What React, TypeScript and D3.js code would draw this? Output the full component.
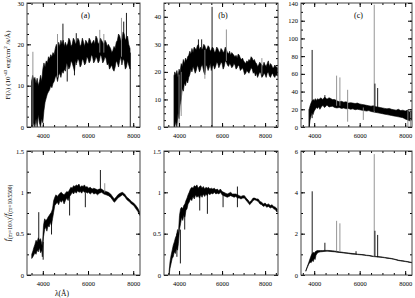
import React, { useRef, useLayoutEffect } from 'react';
import * as d3 from 'd3';

// [lambda (Å), lower edge, upper edge] of the plotted spectrum
type Pt = [number, number, number];
// [lambda, from, to, grey? 1 : 0]
type Spike = [number, number, number, number];

const lambdaTicks = [4000, 6000, 8000];
const fluxTicksA = [0, 10, 20, 30];
const fluxTicksB = [0, 10, 20, 30, 40];
const fluxTicksC = [0, 20, 40, 60, 80, 100, 120, 140];
const ratioTicksAB = [0, 0.5, 1, 1.5];
const ratioTicksC = [0, 2, 4, 6];

const specA: Pt[] = [
    [3500, 0, 11], [3550, 0, 12.5], [3600, 1, 11.5], [3650, 0, 12], [3700, 2, 10.5],
    [3750, 0, 11.8], [3800, 3, 10], [3850, 1, 11], [3900, 0, 12.5], [3950, 2, 11],
    [4000, 1, 14], [4050, 4, 15.5], [4100, 6, 14.5], [4150, 7, 16], [4200, 8, 15.5],
    [4250, 8.5, 17], [4300, 9, 16.5], [4350, 10, 17.5], [4400, 9.5, 17], [4450, 10.5, 18],
    [4500, 11, 17.5], [4550, 12, 19], [4600, 12.5, 20], [4650, 11, 19], [4700, 12.5, 20.5],
    [4750, 13, 19.5], [4800, 12, 21], [4850, 13.5, 20], [4900, 13, 21], [4950, 14, 19.5],
    [5000, 13.5, 20.5], [5050, 15.5, 19.5], [5100, 15, 20], [5150, 14, 21.5], [5200, 14.5, 21],
    [5250, 16, 19.5], [5300, 15.5, 20], [5350, 14.5, 21.5], [5400, 13.5, 21], [5450, 16, 20],
    [5500, 15.5, 20.5], [5550, 16.5, 21.5], [5600, 16, 21], [5650, 14.5, 19.5], [5700, 15, 20],
    [5750, 16.5, 21.5], [5800, 16, 20.5], [5850, 15, 19.5], [5900, 15.5, 21], [5950, 17, 20.5],
    [6000, 16.5, 20], [6050, 15.5, 21.5], [6100, 16, 21], [6150, 17.5, 20], [6200, 17, 20.5],
    [6250, 15.5, 21], [6300, 16, 20], [6350, 17, 22], [6400, 16.5, 21.5], [6450, 15.5, 20],
    [6500, 16, 20.5], [6550, 17.5, 21.5], [6600, 17, 21], [6650, 15.5, 20.5], [6700, 16, 20],
    [6750, 17, 21], [6800, 16.5, 20.5], [6850, 15, 19.5], [6900, 15.5, 20], [6950, 14, 19.5],
    [7000, 14.5, 19], [7050, 15, 18], [7100, 14, 18.5], [7150, 13.5, 19.5], [7200, 14.5, 19],
    [7250, 16, 20.5], [7300, 15.5, 21], [7350, 14.5, 22.5], [7400, 16, 22], [7450, 17, 21],
    [7500, 15, 21], [7550, 16.5, 23], [7600, 16, 22.5], [7650, 14, 21], [7700, 14.5, 21.5],
    [7750, 16, 22], [7800, 15, 20], [7860, 14, 19]
];
const spikesA: Spike[] = [
    [3560, 0, 18.2, 1], [4650, 12, 22.5, 1], [4890, 14, 25, 0], [5080, 11, 20, 0],
    [5400, 12.5, 20, 0], [5480, 15, 22.7, 0], [6520, 18, 23.5, 1], [6700, 18, 22.5, 1],
    [7480, 17, 26.4, 1], [7580, 17, 25.5, 0], [7700, 16, 27.6, 0], [7870, 0, 18, 0]
];

const specB: Pt[] = [
    [3770, 0, 18.5], [3800, 0, 20], [3850, 2, 19], [3900, 0, 20.5], [3950, 5, 18],
    [4000, 3, 21], [4050, 8, 20], [4100, 10, 23], [4150, 14, 22], [4200, 13, 24.5],
    [4250, 16, 23], [4300, 15, 25], [4350, 17, 24], [4400, 16, 25.5], [4450, 18, 26],
    [4500, 19, 27.5], [4550, 21, 26.5], [4600, 20, 28.5], [4650, 22, 27], [4700, 21, 29],
    [4750, 19.5, 28.5], [4800, 20.5, 28], [4850, 22.5, 29.5], [4900, 21.5, 30], [4950, 20, 28],
    [5000, 21, 29], [5050, 23, 28], [5100, 22, 28.5], [5150, 20, 30], [5200, 19, 29.5],
    [5250, 22.5, 28], [5300, 22, 28.5], [5350, 20.5, 29.5], [5400, 21.5, 29], [5450, 23, 27.5],
    [5500, 20.5, 28], [5550, 22, 29], [5600, 22.5, 28.5], [5650, 21, 27], [5700, 22, 27.5],
    [5750, 23.5, 29], [5800, 23, 28.5], [5850, 21.5, 27.5], [5900, 22.5, 27], [5950, 23.5, 28.5],
    [6000, 23, 28], [6050, 21, 27], [6100, 22, 27.5], [6150, 24, 29], [6200, 23.5, 28],
    [6250, 22.5, 27], [6300, 22, 26.5], [6350, 23, 27.5], [6400, 22.5, 26], [6450, 21.5, 27],
    [6500, 22, 26.5], [6550, 23, 26], [6600, 22.5, 25.5], [6650, 21, 26], [6700, 21.5, 25],
    [6750, 22.5, 26.5], [6800, 22, 26], [6850, 20.5, 25], [6900, 21, 24.5], [6950, 21.5, 25],
    [7000, 20.5, 24], [7050, 19, 23.5], [7100, 19.5, 23], [7150, 20.5, 24], [7200, 20, 23.5],
    [7250, 19.5, 24.5], [7300, 20.5, 24], [7350, 21.5, 25.5], [7400, 21, 25], [7450, 19.5, 24],
    [7500, 20, 24.5], [7550, 18.5, 23.5], [7600, 19.5, 23], [7650, 18, 22], [7700, 19, 22.5],
    [7750, 20, 23.5], [7800, 19.5, 23], [7850, 18, 22.5], [7900, 18.5, 22], [7950, 19.5, 23.5],
    [8000, 19, 22.5], [8050, 18, 22], [8100, 19.5, 23], [8150, 20, 24], [8200, 18.5, 22],
    [8250, 18, 23], [8300, 19, 22.5], [8350, 19.5, 21.5], [8400, 18.5, 21.5], [8450, 18, 22.5],
    [8500, 19, 22], [8570, 18.5, 21.5]
];
const spikesB: Spike[] = [
    [3780, 0, 18.8, 0], [4000, 0, 19, 1], [4100, 4, 20, 1], [4900, 22, 31.8, 0],
    [5050, 22, 31.8, 0], [5200, 17.5, 28, 1], [5535, 0, 43.6, 0], [6200, 24, 35.4, 1],
    [7850, 19, 25, 1]
];

const specC: Pt[] = [
    [3780, 0, 20], [3820, 8, 24], [3860, 12, 27], [3900, 16, 29], [3950, 14, 31],
    [4000, 18, 30], [4050, 20, 32], [4100, 22, 30], [4150, 21, 32], [4200, 23, 31],
    [4250, 20, 32], [4300, 22, 33], [4350, 24, 31], [4400, 24, 32], [4450, 22, 33.5],
    [4500, 23, 33], [4550, 24.5, 31.5], [4600, 24, 32], [4650, 22.5, 33], [4700, 23, 32.5],
    [4800, 23.5, 31], [4900, 22, 31], [5000, 21.5, 29.5], [5100, 22, 28.5], [5200, 21, 29],
    [5300, 21.5, 28], [5400, 20.5, 28.5], [5500, 21, 27], [5600, 20, 27.5], [5700, 20.5, 27],
    [5800, 19.5, 26.5], [5900, 20, 27], [6000, 19.5, 26], [6100, 19, 25.5], [6200, 18.5, 25],
    [6300, 18, 24.5], [6400, 18.5, 24], [6500, 17.5, 23.5], [6600, 17, 24], [6700, 16.5, 23],
    [6800, 16, 22.5], [6900, 15.5, 22], [7000, 15, 21.5], [7100, 14.5, 21], [7200, 14, 20.5],
    [7300, 13.5, 21], [7400, 13, 20], [7500, 12.5, 19.5], [7600, 12, 19], [7700, 11.5, 20],
    [7800, 11, 18.5], [7900, 10.5, 19], [8000, 9, 18], [8100, 8, 19], [8200, 7, 17],
    [8290, 8, 18]
];
const spikesC: Spike[] = [
    [3780, 0, 20, 0], [3910, 10, 87, 0], [4470, 26, 36, 0], [4985, 24, 58, 1],
    [5130, 24, 56, 1], [5470, 6, 42, 1], [6160, 8, 22, 1], [6640, 16, 138, 1],
    [6670, 18, 49, 0], [6790, 18, 44, 0], [8120, 0, 18, 1], [8230, 0, 17, 1]
];

const ratioA: Pt[] = [
    [3510, 0.2, 0.25], [3560, 0.22, 0.29], [3600, 0.24, 0.33], [3650, 0.27, 0.37], [3700, 0.25, 0.42],
    [3750, 0.3, 0.4], [3800, 0.28, 0.45], [3850, 0.33, 0.42], [3900, 0.27, 0.44], [3950, 0.3, 0.38],
    [3980, 0.22, 0.34], [4030, 0.46, 0.6], [4080, 0.55, 0.68], [4130, 0.58, 0.66], [4180, 0.53, 0.67],
    [4230, 0.6, 0.7], [4280, 0.58, 0.72], [4330, 0.64, 0.74], [4380, 0.6, 0.76], [4430, 0.68, 0.8],
    [4480, 0.76, 0.9], [4530, 0.84, 0.94], [4580, 0.86, 0.97], [4640, 0.88, 0.95], [4700, 0.85, 0.97],
    [4760, 0.9, 0.99], [4820, 0.88, 1.0], [4880, 0.91, 0.98], [4940, 0.86, 0.97], [5000, 0.9, 0.99],
    [5060, 0.93, 1.01], [5120, 0.9, 1.0], [5180, 0.95, 1.03], [5240, 0.97, 1.06], [5300, 1.0, 1.05],
    [5360, 0.98, 1.08], [5420, 1.01, 1.07], [5480, 0.99, 1.09], [5540, 1.02, 1.08], [5600, 1.0, 1.1],
    [5660, 1.01, 1.06], [5720, 0.99, 1.08], [5780, 1.02, 1.07], [5840, 1.0, 1.09], [5900, 1.01, 1.06],
    [5960, 0.99, 1.07], [6020, 1.0, 1.05], [6100, 0.98, 1.06], [6180, 1.0, 1.04], [6260, 0.98, 1.05],
    [6340, 0.99, 1.04], [6420, 0.97, 1.03], [6500, 0.99, 1.04], [6600, 1.0, 1.04], [6700, 0.98, 1.02],
    [6800, 0.97, 1.01], [6900, 0.96, 1.0], [7000, 0.94, 0.98], [7080, 0.91, 0.95], [7160, 0.88, 0.92],
    [7240, 0.9, 0.94], [7320, 0.93, 0.97], [7420, 0.95, 0.99], [7520, 0.97, 1.0], [7620, 0.95, 0.98],
    [7720, 0.91, 0.94], [7820, 0.89, 0.92], [7920, 0.86, 0.89], [8020, 0.84, 0.87], [8120, 0.8, 0.84],
    [8200, 0.77, 0.81], [8290, 0.72, 0.76]
];
const ratioSpikesA: Spike[] = [
    [3820, 0.38, 0.76, 0], [4015, 0.185, 0.4, 0], [4385, 0.49, 0.72, 0], [5185, 0.72, 0.97, 0],
    [5881, 0.82, 1.06, 0], [6548, 1.0, 1.27, 0], [6740, 1.0, 1.11, 1]
];

const ratioB: Pt[] = [
    [3535, 0.0, 0.04], [3580, 0.08, 0.16], [3630, 0.14, 0.24], [3680, 0.2, 0.3], [3730, 0.22, 0.36],
    [3780, 0.28, 0.4], [3830, 0.26, 0.45], [3880, 0.32, 0.48], [3930, 0.3, 0.55], [3970, 0.38, 0.5],
    [4020, 0.55, 0.72], [4070, 0.62, 0.8], [4120, 0.7, 0.82], [4170, 0.66, 0.8], [4220, 0.72, 0.84],
    [4270, 0.7, 0.86], [4320, 0.78, 0.9], [4370, 0.8, 0.93], [4420, 0.86, 0.97], [4470, 0.88, 1.0],
    [4530, 0.92, 1.04], [4590, 0.9, 1.06], [4650, 0.95, 1.05], [4710, 0.92, 1.08], [4770, 0.97, 1.07],
    [4830, 0.94, 1.09], [4890, 0.96, 1.05], [4950, 0.93, 1.07], [5010, 0.97, 1.08], [5070, 0.94, 1.05],
    [5130, 0.98, 1.07], [5190, 0.95, 1.04], [5250, 0.98, 1.06], [5310, 0.96, 1.05], [5370, 0.99, 1.06],
    [5430, 0.97, 1.04], [5500, 0.99, 1.05], [5570, 0.98, 1.04], [5640, 1.0, 1.05], [5710, 0.98, 1.03],
    [5780, 0.99, 1.04], [5850, 0.98, 1.02], [5920, 1.0, 1.04], [6000, 0.97, 1.01], [6080, 0.96, 1.0],
    [6160, 0.95, 0.99], [6240, 0.94, 0.98], [6320, 0.95, 0.99], [6400, 0.96, 1.0], [6480, 0.95, 0.98],
    [6560, 0.94, 0.98], [6640, 0.95, 0.98], [6720, 0.93, 0.97], [6800, 0.93, 0.96], [6880, 0.92, 0.95],
    [6960, 0.93, 0.96], [7040, 0.93, 0.96], [7120, 0.9, 0.93], [7200, 0.88, 0.91], [7280, 0.85, 0.88],
    [7360, 0.87, 0.9], [7440, 0.9, 0.93], [7520, 0.91, 0.93], [7600, 0.9, 0.92], [7680, 0.89, 0.92],
    [7760, 0.86, 0.89], [7840, 0.85, 0.88], [7920, 0.83, 0.86], [8000, 0.84, 0.87], [8080, 0.82, 0.85],
    [8160, 0.83, 0.86], [8240, 0.81, 0.84], [8320, 0.82, 0.85], [8400, 0.8, 0.83], [8480, 0.79, 0.82],
    [8560, 0.76, 0.8]
];
const ratioSpikesB: Spike[] = [
    [3900, 0.22, 0.5, 0], [4062, 0.14, 0.55, 0], [4263, 0.55, 0.8, 0], [4961, 0.78, 1.0, 0],
    [5318, 0.74, 1.0, 0], [6046, 0.82, 1.0, 0], [6713, 0.82, 1.07, 0]
];

const ratioC: Pt[] = [
    [3632, 0.18, 0.22], [3700, 0.37, 0.42], [3760, 0.52, 0.6], [3820, 0.62, 0.8], [3870, 0.6, 0.95],
    [3920, 0.7, 1.05], [3960, 0.65, 1.1], [4000, 0.8, 1.05], [4040, 0.75, 1.12], [4080, 0.95, 1.15],
    [4130, 1.05, 1.18], [4200, 1.1, 1.18], [4280, 1.12, 1.18], [4360, 1.13, 1.18], [4440, 1.14, 1.19],
    [4520, 1.15, 1.19], [4600, 1.15, 1.19], [4700, 1.14, 1.18], [4800, 1.13, 1.17], [4900, 1.12, 1.16],
    [5000, 1.1, 1.14], [5100, 1.09, 1.12], [5200, 1.08, 1.11], [5300, 1.06, 1.09], [5400, 1.05, 1.08],
    [5500, 1.04, 1.07], [5600, 1.02, 1.05], [5700, 1.01, 1.04], [5800, 1.0, 1.03], [5900, 0.99, 1.01],
    [6000, 0.98, 1.0], [6100, 0.97, 0.99], [6200, 0.96, 0.98], [6300, 0.94, 0.96], [6400, 0.93, 0.95],
    [6500, 0.91, 0.93], [6600, 0.89, 0.91], [6700, 0.88, 0.9], [6800, 0.87, 0.89], [6900, 0.86, 0.88],
    [7000, 0.85, 0.87], [7100, 0.83, 0.85], [7200, 0.81, 0.83], [7300, 0.8, 0.82], [7400, 0.78, 0.8],
    [7500, 0.76, 0.78], [7600, 0.73, 0.75], [7700, 0.7, 0.72], [7800, 0.68, 0.7], [7900, 0.67, 0.69],
    [8000, 0.65, 0.67], [8100, 0.63, 0.65], [8200, 0.61, 0.63], [8300, 0.59, 0.61]
];
const ratioSpikesC: Spike[] = [
    [3912, 0.8, 4.05, 0], [4470, 1.15, 1.56, 0], [4985, 1.15, 2.62, 1], [5130, 1.12, 2.5, 1],
    [5840, 1.0, 1.15, 0], [6640, 0.88, 5.85, 1], [6670, 0.88, 2.14, 0], [6790, 0.86, 1.94, 0]
];

const FONT = 'Liberation Serif, Times New Roman, serif';

// pixel boxes of the three columns and two rows
const cols = [[27, 140], [164, 278], [301, 412]];
const rows = [[3, 127], [151, 275]];

const panels = [
    { spec: specA, spikes: spikesA, xDomain: [3300, 8300], yDomain: [0, 30], yTicks: fluxTicksA, yMinor: 2.5, col: 0, row: 0, tag: '(a)' },
    { spec: specB, spikes: spikesB, xDomain: [3300, 8600], yDomain: [0, 45], yTicks: fluxTicksB, yMinor: 2.5, col: 1, row: 0, tag: '(b)' },
    { spec: specC, spikes: spikesC, xDomain: [3420, 8300], yDomain: [0, 140], yTicks: fluxTicksC, yMinor: 10, col: 2, row: 0, tag: '(c)' },
    { spec: ratioA, spikes: ratioSpikesA, xDomain: [3300, 8300], yDomain: [0, 1.5], yTicks: ratioTicksAB, yMinor: 0.25, col: 0, row: 1, tag: '' },
    { spec: ratioB, spikes: ratioSpikesB, xDomain: [3300, 8600], yDomain: [0, 1.5], yTicks: ratioTicksAB, yMinor: 0.25, col: 1, row: 1, tag: '' },
    { spec: ratioC, spikes: ratioSpikesC, xDomain: [3420, 8300], yDomain: [0, 6], yTicks: ratioTicksC, yMinor: 1, col: 2, row: 1, tag: '' }
];

const styleAxis = (g) => {
    g.select('.domain').remove();
    g.selectAll('line').attr('stroke', '#000');
    g.selectAll('text').attr('font-family', FONT).attr('font-size', 6.5).attr('fill', '#000');
};

const SpectraFigure = () => {
    const ref = useRef(null);

    useLayoutEffect(() => {
        const svg = d3.select(ref.current);
        svg.selectAll('*').remove();

        panels.forEach((p, idx) => {
            const [left, right] = cols[p.col];
            const [top, bottom] = rows[p.row];
            const x = d3.scaleLinear().domain(p.xDomain).range([left, right]);
            const y = d3.scaleLinear().domain(p.yDomain).range([bottom, top]);
            const g = svg.append('g');

            const clipId = 'clip' + idx;
            svg.append('clipPath').attr('id', clipId)
                .append('rect')
                .attr('x', left).attr('y', top)
                .attr('width', right - left).attr('height', bottom - top);

            const plot = g.append('g').attr('clip-path', 'url(#' + clipId + ')');

            // the noisy spectrum drawn as a band between its lower and upper edge
            const band = d3.area()
                .x(d => x(d[0]))
                .y0(d => y(d[1]))
                .y1(d => y(d[2]));
            plot.append('path')
                .datum(p.spec)
                .attr('d', band)
                .attr('fill', '#000')
                .attr('stroke', '#000')
                .attr('stroke-width', 0.6)
                .attr('stroke-linejoin', 'round');

            // emission lines and single-pixel spikes
            plot.selectAll('line.spike')
                .data(p.spikes)
                .enter().append('line')
                .attr('class', 'spike')
                .attr('x1', d => x(d[0])).attr('x2', d => x(d[0]))
                .attr('y1', d => y(d[1])).attr('y2', d => y(d[2]))
                .attr('stroke', d => d[3] ? '#8a8a8a' : '#000')
                .attr('stroke-width', 0.9);

            const minorX = d3.range(3500, p.xDomain[1] + 1, 500).filter(v => v > p.xDomain[0]);
            const minorY = d3.range(p.yDomain[0], p.yDomain[1] + 1e-9, p.yMinor);

            // bottom axis with labels, ticks pointing inwards
            g.append('g')
                .attr('transform', 'translate(0,' + bottom + ')')
                .call(d3.axisBottom(x).tickValues(lambdaTicks).tickSizeInner(-4).tickSizeOuter(0).tickPadding(6).tickFormat(d3.format('d')))
                .call(styleAxis);
            g.append('g')
                .attr('transform', 'translate(0,' + bottom + ')')
                .call(d3.axisBottom(x).tickValues(minorX).tickSizeInner(-2).tickSizeOuter(0).tickFormat(() => ''))
                .call(styleAxis);
            g.append('g')
                .attr('transform', 'translate(0,' + top + ')')
                .call(d3.axisTop(x).tickValues(lambdaTicks).tickSizeInner(-4).tickSizeOuter(0).tickFormat(() => ''))
                .call(styleAxis);
            g.append('g')
                .attr('transform', 'translate(0,' + top + ')')
                .call(d3.axisTop(x).tickValues(minorX).tickSizeInner(-2).tickSizeOuter(0).tickFormat(() => ''))
                .call(styleAxis);

            g.append('g')
                .attr('transform', 'translate(' + left + ',0)')
                .call(d3.axisLeft(y).tickValues(p.yTicks).tickSizeInner(-4).tickSizeOuter(0).tickPadding(3).tickFormat(d => String(d)))
                .call(styleAxis);
            g.append('g')
                .attr('transform', 'translate(' + left + ',0)')
                .call(d3.axisLeft(y).tickValues(minorY).tickSizeInner(-2).tickSizeOuter(0).tickFormat(() => ''))
                .call(styleAxis);
            g.append('g')
                .attr('transform', 'translate(' + right + ',0)')
                .call(d3.axisRight(y).tickValues(p.yTicks).tickSizeInner(-4).tickSizeOuter(0).tickFormat(() => ''))
                .call(styleAxis);
            g.append('g')
                .attr('transform', 'translate(' + right + ',0)')
                .call(d3.axisRight(y).tickValues(minorY).tickSizeInner(-2).tickSizeOuter(0).tickFormat(() => ''))
                .call(styleAxis);

            // frame
            g.append('rect')
                .attr('x', left).attr('y', top)
                .attr('width', right - left).attr('height', bottom - top)
                .attr('fill', 'none')
                .attr('stroke', '#444')
                .attr('stroke-width', 1);

            if (p.tag) {
                g.append('text')
                    .attr('x', (left + right) / 2 + 2)
                    .attr('y', top + 15)
                    .attr('text-anchor', 'middle')
                    .attr('font-family', FONT)
                    .attr('font-size', 8)
                    .text(p.tag);
            }
        });

        // y label of the flux row
        const fluxLabel = svg.append('text')
            .attr('transform', 'translate(10,65) rotate(-90)')
            .attr('text-anchor', 'middle')
            .attr('font-family', FONT)
            .attr('font-size', 7);
        fluxLabel.append('tspan').text('F(λ) (10');
        fluxLabel.append('tspan').attr('font-size', 5).attr('dy', -3).text('-43');
        fluxLabel.append('tspan').attr('dy', 3).text(' erg/cm');
        fluxLabel.append('tspan').attr('font-size', 5).attr('dy', -3).text('2');
        fluxLabel.append('tspan').attr('dy', 3).text(' /s/Å)');

        // y label of the normalised row
        const ratioLabel = svg.append('text')
            .attr('transform', 'translate(10,213) rotate(-90)')
            .attr('text-anchor', 'middle')
            .attr('font-family', FONT)
            .attr('font-size', 8);
        ratioLabel.append('tspan').attr('font-style', 'italic').text('f');
        ratioLabel.append('tspan').attr('font-size', 5.5).attr('dy', 2).text('(m=10/λ)');
        ratioLabel.append('tspan').attr('dy', -2).attr('font-style', 'italic').text('/f');
        ratioLabel.append('tspan').attr('font-size', 5.5).attr('dy', 2).text('(m=10/5500)');

        svg.append('text')
            .attr('x', 62)
            .attr('y', 296)
            .attr('text-anchor', 'middle')
            .attr('font-family', FONT)
            .attr('font-size', 7.5)
            .text('λ(Å)');
    }, []);

    return (
        <svg ref={ref} width={415} height={298}
            style={{ position: 'absolute', left: 0, top: 0, background: '#fff' }}></svg>
    );
};

export default function App() {
    return <SpectraFigure />;
}
